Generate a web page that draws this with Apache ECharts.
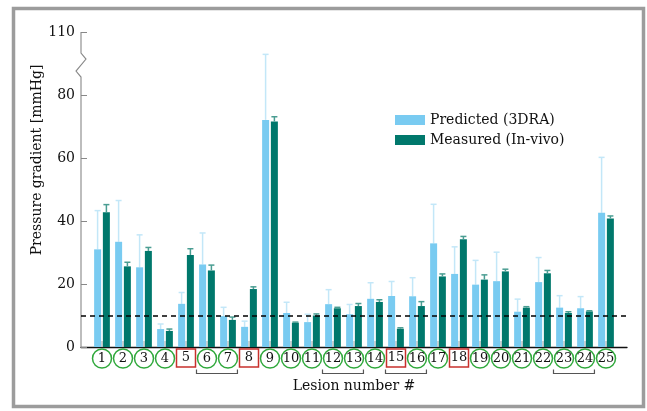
<!DOCTYPE html>
<html>
<head>
<meta charset="utf-8">
<script src="https://cdn.jsdelivr.net/npm/echarts@6/dist/echarts.min.js"></script>
<style>html,body{margin:0;padding:0;background:#fff}#c{width:647px;height:411px}</style>
</head>
<body>
<div id="c"></div>
<script>
const lesions = ['1','2','3','4','5','6','7','8','9','10','11','12','13','14','15','16','17','18','19','20','21','22','23','24','25'];
const predicted      = [31.0,33.4,25.3,5.7,13.7,26.2,9.8,6.4,72.1,10.8,7.9,13.6,10.4,15.3,16.2,16.1,32.9,23.2,19.8,20.9,11.2,20.6,12.5,12.3,42.6];
const predictedUpper = [43.3,46.5,35.6,7.3,17.3,36.2,12.6,8.2,92.9,14.2,10.4,18.2,13.5,20.4,20.8,22.0,45.3,31.8,27.5,30.1,15.2,28.4,16.3,16.0,60.2];
const measured       = [42.8,25.6,30.5,5.1,29.2,24.3,8.6,18.4,71.6,7.7,10.0,12.3,13.0,14.3,5.8,13.0,22.4,34.2,21.4,24.0,12.5,23.4,10.8,11.3,40.8];
const measuredUpper  = [45.2,26.9,31.6,5.7,31.2,26.0,9.5,19.1,73.1,7.9,10.5,12.6,13.8,15.0,6.1,14.4,23.2,35.1,22.9,24.7,12.8,24.3,11.2,11.5,41.6];
const redBoxed = ['5','8','15','18'];
const brackets = [[6,7],[12,13],[15,16],[23,24]];
const yTickLabels = {0:'0',20:'20',40:'40',60:'60',80:'80',100:'110'};
const threshold = 10;
const axisBreak = [85.7, 93.3];

const FONT = 'DejaVu Serif';
const C_PRED = '#79cbf1', C_MEAS = '#00786c';
const C_PRED_ERR = '#c3e7f8', C_MEAS_ERR = '#4a9d92';

const chart = echarts.init(document.getElementById('c'), null, {renderer:'canvas'});

function errRender(offset, color) {
  return function (params, api) {
    const x = api.value(0), lo = api.value(1), hi = api.value(2);
    const p1 = api.coord([x, lo]), p2 = api.coord([x, hi]);
    const cx = p1[0] + offset;
    return {
      type: 'group',
      children: [
        {type:'line', shape:{x1:cx, y1:p1[1], x2:cx, y2:p2[1]}, style:{stroke:color, lineWidth:1.5}},
        {type:'line', shape:{x1:cx-3, y1:p2[1], x2:cx+3, y2:p2[1]}, style:{stroke:color, lineWidth:1.5}}
      ]
    };
  };
}

const option = {
  backgroundColor: '#fff',
  animation: false,
  grid: {left: 81, right: 20, top: 32, bottom: 64, containLabel: false},
  legend: {
    orient: 'vertical', left: 390, top: 108,
    itemWidth: 30, itemHeight: 10, itemGap: 6,
    icon: 'rect',
    data: ['Predicted (3DRA)', 'Measured (In-vivo)'],
    textStyle: {fontFamily: FONT, fontSize: 14, color: '#111'}
  },
  xAxis: {
    type: 'value', min: 0, max: 26, interval: 1,
    name: 'Lesion number #', nameLocation: 'middle', nameGap: 32,
    nameTextStyle: {fontFamily: FONT, fontSize: 14, color: '#111'},
    axisLine: {show: true, lineStyle: {color: '#111', width: 1.3}},
    axisTick: {show: false},
    splitLine: {show: false},
    axisLabel: {
      margin: 3,
      formatter: function (v) {
        if (v < 1 || v > 25) return '';
        const name = lesions[v - 1];
        return (redBoxed.indexOf(name) >= 0 ? '{r|' : '{c|') + name + '}';
      },
      rich: {
        c: {fontFamily: FONT, fontSize: 13, color: '#111', width: 17, height: 17, lineHeight: 17, align: 'center',
            borderColor: '#2fa83b', borderWidth: 1.5, borderRadius: 10, padding: [1, 1, 1, 1]},
        r: {fontFamily: FONT, fontSize: 13, color: '#111', width: 17, height: 16, lineHeight: 16, align: 'center',
            borderColor: '#c8302c', borderWidth: 1.5, borderRadius: 0, padding: [1, 1, 1, 1]}
      }
    }
  },
  yAxis: {
    type: 'value', min: 0, max: 100, interval: 20,
    axisLine: {show: false},
    axisTick: {show: true, inside: true, length: 6, lineStyle: {color: '#888', width: 1}},
    splitLine: {show: false},
    axisLabel: {margin: 6, fontFamily: FONT, fontSize: 14, color: '#111',
      formatter: function (v) { return yTickLabels[v] !== undefined ? yTickLabels[v] : ''; }}
  },
  graphic: [
    {type: 'rect', shape: {x: 13.5, y: 8.5, width: 630, height: 398}, style: {fill: 'none', stroke: '#9c9c9c', lineWidth: 3.5}, z: 100},
    {type: 'text', x: 37, y: 160, rotation: Math.PI / 2,
     style: {text: 'Pressure gradient [mmHg]', fontFamily: FONT, fontSize: 14, fill: '#111', align: 'center', verticalAlign: 'middle'}}
  ],
  series: [
    {
      name: 'xTicks', type: 'custom', z: 1,
      renderItem: function (params, api) {
        const p = api.coord([api.value(0), 0]);
        return {type: 'line', shape: {x1: p[0], y1: p[1], x2: p[0], y2: p[1] - 6}, style: {stroke: '#c4c4c4', lineWidth: 1.5}};
      },
      data: lesions.map((s, i) => [i + 1])
    },
    {
      name: 'Predicted (3DRA)', type: 'bar', barWidth: 7, barGap: '25%',
      itemStyle: {color: C_PRED},
      data: predicted.map((v, i) => [i + 1, v]),
      markLine: {
        silent: true, symbol: 'none', label: {show: false},
        lineStyle: {color: '#000', type: [5, 4], width: 1.5},
        data: [{yAxis: threshold}]
      }
    },
    {
      name: 'Measured (In-vivo)', type: 'bar', barWidth: 7, barGap: '25%',
      itemStyle: {color: C_MEAS},
      data: measured.map((v, i) => [i + 1, v])
    },
    {
      name: 'predErr', type: 'custom', renderItem: errRender(-4.4, C_PRED_ERR), z: 1,
      data: predicted.map((v, i) => [i + 1, v, predictedUpper[i]])
    },
    {
      name: 'measErr', type: 'custom', renderItem: errRender(4.4, C_MEAS_ERR), z: 3,
      data: measured.map((v, i) => [i + 1, v, measuredUpper[i]])
    },
    {
      name: 'brackets', type: 'custom', clip: false,
      renderItem: function (params, api) {
        const a = api.coord([api.value(0) - 0.5, 0]);
        const b = api.coord([api.value(1) + 0.45, 0]);
        const y = a[1] + 26.5, yt = a[1] + 22.5;
        return {type: 'polyline', shape: {points: [[a[0], yt], [a[0], y], [b[0], y], [b[0], yt]]},
                style: {stroke: '#555', lineWidth: 1.2, fill: 'none'}};
      },
      data: brackets
    },
    {
      name: 'yAxisLine', type: 'custom', clip: false,
      renderItem: function (params, api) {
        const p0 = api.coord([0, 0]), pLo = api.coord([0, axisBreak[0]]), pHi = api.coord([0, axisBreak[1]]), pTop = api.coord([0, 100]);
        const h = pLo[1] - pHi[1];
        const x = p0[0];
        return {type: 'polyline', shape: {points: [
          [x, p0[1]], [x, pLo[1]], [x - 5, pHi[1] + h * 0.75], [x + 5, pHi[1] + h * 0.25], [x, pHi[1]], [x, pTop[1]]
        ]}, style: {stroke: '#888', lineWidth: 1.1, fill: 'none'}};
      },
      data: [[0]]
    }
  ]
};
chart.setOption(option);
</script>
</body>
</html>
